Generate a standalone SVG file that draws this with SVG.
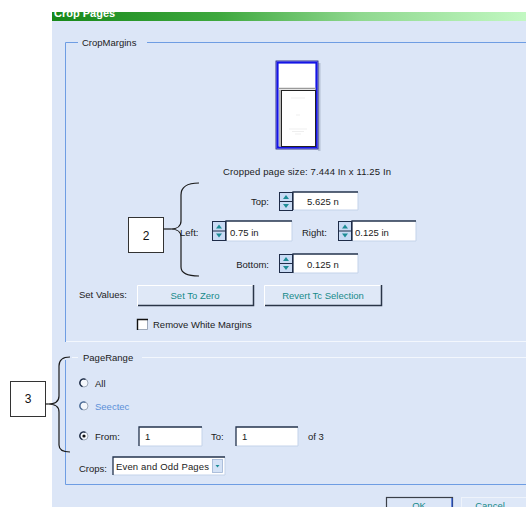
<svg xmlns="http://www.w3.org/2000/svg" width="526" height="507" viewBox="0 0 526 507">
<defs>
<linearGradient id="tg" x1="0" y1="0" x2="1" y2="0">
<stop offset="0" stop-color="#17881a"/>
<stop offset="0.35" stop-color="#3ea83e"/>
<stop offset="0.65" stop-color="#8fd88f"/>
<stop offset="1" stop-color="#c2f8c2"/>
</linearGradient>
<clipPath id="tc"><rect x="52" y="12" width="474" height="9"/></clipPath>
<style>
text{font-family:"Liberation Sans",Arial,sans-serif;font-size:9.5px;fill:#1b1b1b}
.btxt{fill:#178a8a;text-anchor:middle}
.field{fill:#ffffff}
.fdark{fill:none;stroke:#24344e;stroke-width:1.3}
.flight{fill:none;stroke:#c4d3ea;stroke-width:1}
.spin{fill:#c9dbf4;stroke:#1e2c48;stroke-width:1}
.arr{fill:#1d8c96}
.gline{stroke:#6e9de3;stroke-width:1;fill:none}
.glight{stroke:#f3f7fd;stroke-width:1;fill:none}
.btn{fill:#dfe8f7}
.bhi{fill:none;stroke:#ffffff;stroke-width:1}
.bsh{fill:none;stroke:#2a3548;stroke-width:1.5}
.callout{fill:#ffffff;stroke:#333333;stroke-width:1}
.ctext{font-size:12px;text-anchor:middle;fill:#111}
.brace{fill:none;stroke:#1a1a1a;stroke-width:1.2}
.radio{fill:#f4f7fc;stroke:#8a97aa;stroke-width:0.8}
.rarc{fill:none;stroke:#1c2a44;stroke-width:1.4}
</style>
</defs>
<rect x="0" y="0" width="526" height="507" fill="#ffffff"/>
<g id="dialog">
<rect x="52" y="21" width="474" height="486" fill="#dce6f7"/>
<rect x="52" y="12" width="474" height="9" fill="url(#tg)"/>
<text x="54" y="16.5" clip-path="url(#tc)" style="font-size:11px;font-weight:bold;fill:#ffffff">Crop Pages</text>
</g>
<g id="crop-margins-group">
<path class="gline" d="M65.5,342 L65.5,42.5 L78,42.5 M147,42.5 L526,42.5"/>
<path class="glight" d="M66,341.5 L526,341.5"/>
<text x="82" y="46">CropMargins</text>
</g>
<g id="preview">
<rect x="318" y="63" width="2.5" height="88" fill="#b4c0d4"/>
<rect x="276" y="61" width="42" height="88" fill="#ffffff" stroke="#0a0a70" stroke-width="0.8"/>
<rect x="277.5" y="62.5" width="39" height="85" fill="#ffffff" stroke="#1414e6" stroke-width="2.2"/>
<line x1="278" y1="88.5" x2="316" y2="88.5" stroke="#9a9a9a" stroke-width="1.5"/>
<line x1="280" y1="90" x2="280" y2="147" stroke="#a0a0a0" stroke-width="1.5"/>
<rect x="281.5" y="90.5" width="34" height="56" fill="#ffffff" stroke="#222222" stroke-width="1"/>
<g stroke="#dcdcdc" stroke-width="0.5">
<line x1="291" y1="98" x2="305" y2="98"/>
<line x1="296" y1="115" x2="300" y2="115"/>
<line x1="289" y1="129" x2="307" y2="129"/>
<line x1="292" y1="131.5" x2="304" y2="131.5"/>
<line x1="295" y1="134" x2="301" y2="134"/>
</g>
</g>
<g id="cropped-size">
<text x="223" y="175" textLength="168">Cropped page size: 7.444 In x 11.25 In</text>
</g>
<g id="top-field">
<text x="269" y="205" text-anchor="end">Top:</text>
<rect class="field" x="293" y="192" width="65" height="18"/>
<path class="flight" d="M293,210 L358,210 L358,192"/>
<path class="fdark" d="M293,210 L293,192 L358,192"/>
<rect class="spin" x="279.5" y="192.5" width="13" height="18"/>
<line x1="280" y1="201.5" x2="292" y2="201.5" stroke="#1e2c48"/>
<path class="arr" d="M283,199 L286,195 L289,199 Z M283,204 L289,204 L286,208 Z"/>
<text x="307" y="205">5.625 n</text>
</g>
<g id="left-field">
<text x="180" y="236">Left:</text>
<rect class="field" x="226" y="221" width="66" height="20"/>
<path class="flight" d="M226,241 L292,241 L292,221"/>
<path class="fdark" d="M226,241 L226,221 L292,221"/>
<rect class="spin" x="212.5" y="221.5" width="13" height="19"/>
<line x1="213" y1="231" x2="225" y2="231" stroke="#1e2c48"/>
<path class="arr" d="M216,228.5 L219,224.5 L222,228.5 Z M216,233.5 L222,233.5 L219,237.5 Z"/>
<text x="230" y="236">0.75 in</text>
</g>
<g id="right-field">
<text x="302" y="236">Right:</text>
<rect class="field" x="352" y="221" width="64" height="20"/>
<path class="flight" d="M352,241 L416,241 L416,221"/>
<path class="fdark" d="M352,241 L352,221 L416,221"/>
<rect class="spin" x="338.5" y="221.5" width="13" height="19"/>
<line x1="339" y1="231" x2="351" y2="231" stroke="#1e2c48"/>
<path class="arr" d="M342,228.5 L345,224.5 L348,228.5 Z M342,233.5 L348,233.5 L345,237.5 Z"/>
<text x="355" y="236">0.125 in</text>
</g>
<g id="bottom-field">
<text x="269" y="268" text-anchor="end">Bottom:</text>
<rect class="field" x="293" y="254" width="65" height="19"/>
<path class="flight" d="M293,273 L358,273 L358,254"/>
<path class="fdark" d="M293,273 L293,254 L358,254"/>
<rect class="spin" x="279.5" y="254.5" width="13" height="18"/>
<line x1="280" y1="263.5" x2="292" y2="263.5" stroke="#1e2c48"/>
<path class="arr" d="M283,261 L286,257 L289,261 Z M283,266 L289,266 L286,270 Z"/>
<text x="307" y="268">0.125 n</text>
</g>
<g id="set-values">
<text x="79" y="298">Set Values:</text>
</g>
<g id="btn-set-zero">
<rect class="btn" x="137" y="285" width="117" height="21"/>
<path class="bhi" d="M137.5,306 L137.5,285.5 L254,285.5"/>
<path class="bsh" d="M138,305.5 L253.5,305.5 L253.5,285"/>
<text class="btxt" x="195" y="299">Set To Zero</text>
</g>
<g id="btn-revert">
<rect class="btn" x="264" y="285" width="118" height="21"/>
<path class="bhi" d="M264.5,306 L264.5,285.5 L382,285.5"/>
<path class="bsh" d="M265,305.5 L381.5,305.5 L381.5,285"/>
<text class="btxt" x="323" y="299">Revert Tc Selection</text>
</g>
<g id="remove-white">
<rect x="137.5" y="319.5" width="10" height="10" fill="#ffffff" stroke="#8a97aa" stroke-width="0.8"/>
<path d="M137.5,330 L137.5,319.5 L148,319.5" fill="none" stroke="#111" stroke-width="1.4"/>
<text x="153" y="328">Remove White Margins</text>
</g>
<g id="page-range-group">
<path class="glight" d="M72,357.5 L78,357.5 M142,357.5 L526,357.5"/>
<path class="gline" d="M65.5,360 L65.5,484.5 L526,484.5"/>
<text x="83" y="361">PageRange</text>
</g>
<g id="radio-all">
<circle class="radio" cx="84" cy="383" r="4"/>
<path class="rarc" d="M85.5,379.3 A4,4 0 1 0 82.5,386.7"/>
<text x="95" y="387">All</text>
</g>
<g id="radio-selected">
<circle class="radio" cx="84" cy="406" r="4"/>
<path d="M85.5,402.3 A4,4 0 1 0 82.5,409.7" fill="none" stroke="#4f6f9a" stroke-width="1.4"/>
<text x="95" y="410" style="fill:#5b8fd8">Seectec</text>
</g>
<g id="radio-from">
<circle class="radio" cx="84" cy="436" r="4"/>
<path class="rarc" d="M85.5,432.3 A4,4 0 1 0 82.5,439.7"/>
<circle cx="84" cy="436" r="1.6" fill="#111"/>
<text x="95" y="440">From:</text>
</g>
<g id="from-field">
<rect class="field" x="139" y="427" width="63" height="19"/>
<path class="flight" d="M139,446 L202,446 L202,427"/>
<path class="fdark" d="M139,446 L139,427 L202,427"/>
<text x="145" y="440">1</text>
</g>
<g id="to-field">
<text x="211" y="440">To:</text>
<rect class="field" x="236" y="427" width="62" height="19"/>
<path class="flight" d="M236,446 L298,446 L298,427"/>
<path class="fdark" d="M236,446 L236,427 L298,427"/>
<text x="242" y="440">1</text>
<text x="308" y="440">of 3</text>
</g>
<g id="crops-dropdown">
<text x="79" y="472">Crops:</text>
<rect class="field" x="113" y="457" width="112" height="18"/>
<path class="flight" d="M113,475 L225,475 L225,457"/>
<path class="fdark" d="M113,475 L113,457 L225,457"/>
<rect x="212.5" y="459.5" width="10" height="13" fill="#d4e2f6" stroke="#9fb4d4" stroke-width="0.8"/>
<path class="arr" d="M215.5,465 L219.5,465 L217.5,467.5 Z"/>
<text x="116" y="470" textLength="93">Even and Odd Pages</text>
</g>
<g id="btn-ok">
<rect x="386.5" y="497.5" width="66" height="14" fill="#dce6f7" stroke="#3a3f48" stroke-width="1.2"/>
<line x1="452" y1="498" x2="452" y2="507" stroke="#2050d0" stroke-width="1.2"/>
<text class="btxt" x="419" y="508.5">OK</text>
</g>
<g id="btn-cancel">
<rect x="461.5" y="497.5" width="70" height="14" fill="#dee8f8" stroke="#eef3fb" stroke-width="1"/>
<text class="btxt" x="490" y="508.5">Cancel</text>
</g>
<g id="callout-2">
<rect class="callout" x="128.5" y="217.5" width="35" height="35"/>
<text class="ctext" x="146" y="240">2</text>
</g>
<g id="callout-3">
<rect class="callout" x="10.5" y="381.5" width="35" height="35"/>
<text class="ctext" x="28" y="403">3</text>
</g>
<g id="connectors">
<path class="brace" d="M199,183 C188,183 181,186 181,195 L181,221 C181,226 177,229 171,229 C177,229 181,232 181,237 L181,267 C181,273 188,276 199,276"/>
<line class="brace" x1="163.5" y1="229" x2="171" y2="229"/>
<path class="brace" d="M70,357 C63,357 59,360 59,366 L59,396 C59,401 55,404 48,404 C55,404 59,407 59,412 L59,445 C59,450 63,452 70,452"/>
<line class="brace" x1="45.5" y1="404" x2="48" y2="404"/>
</g>
</svg>
